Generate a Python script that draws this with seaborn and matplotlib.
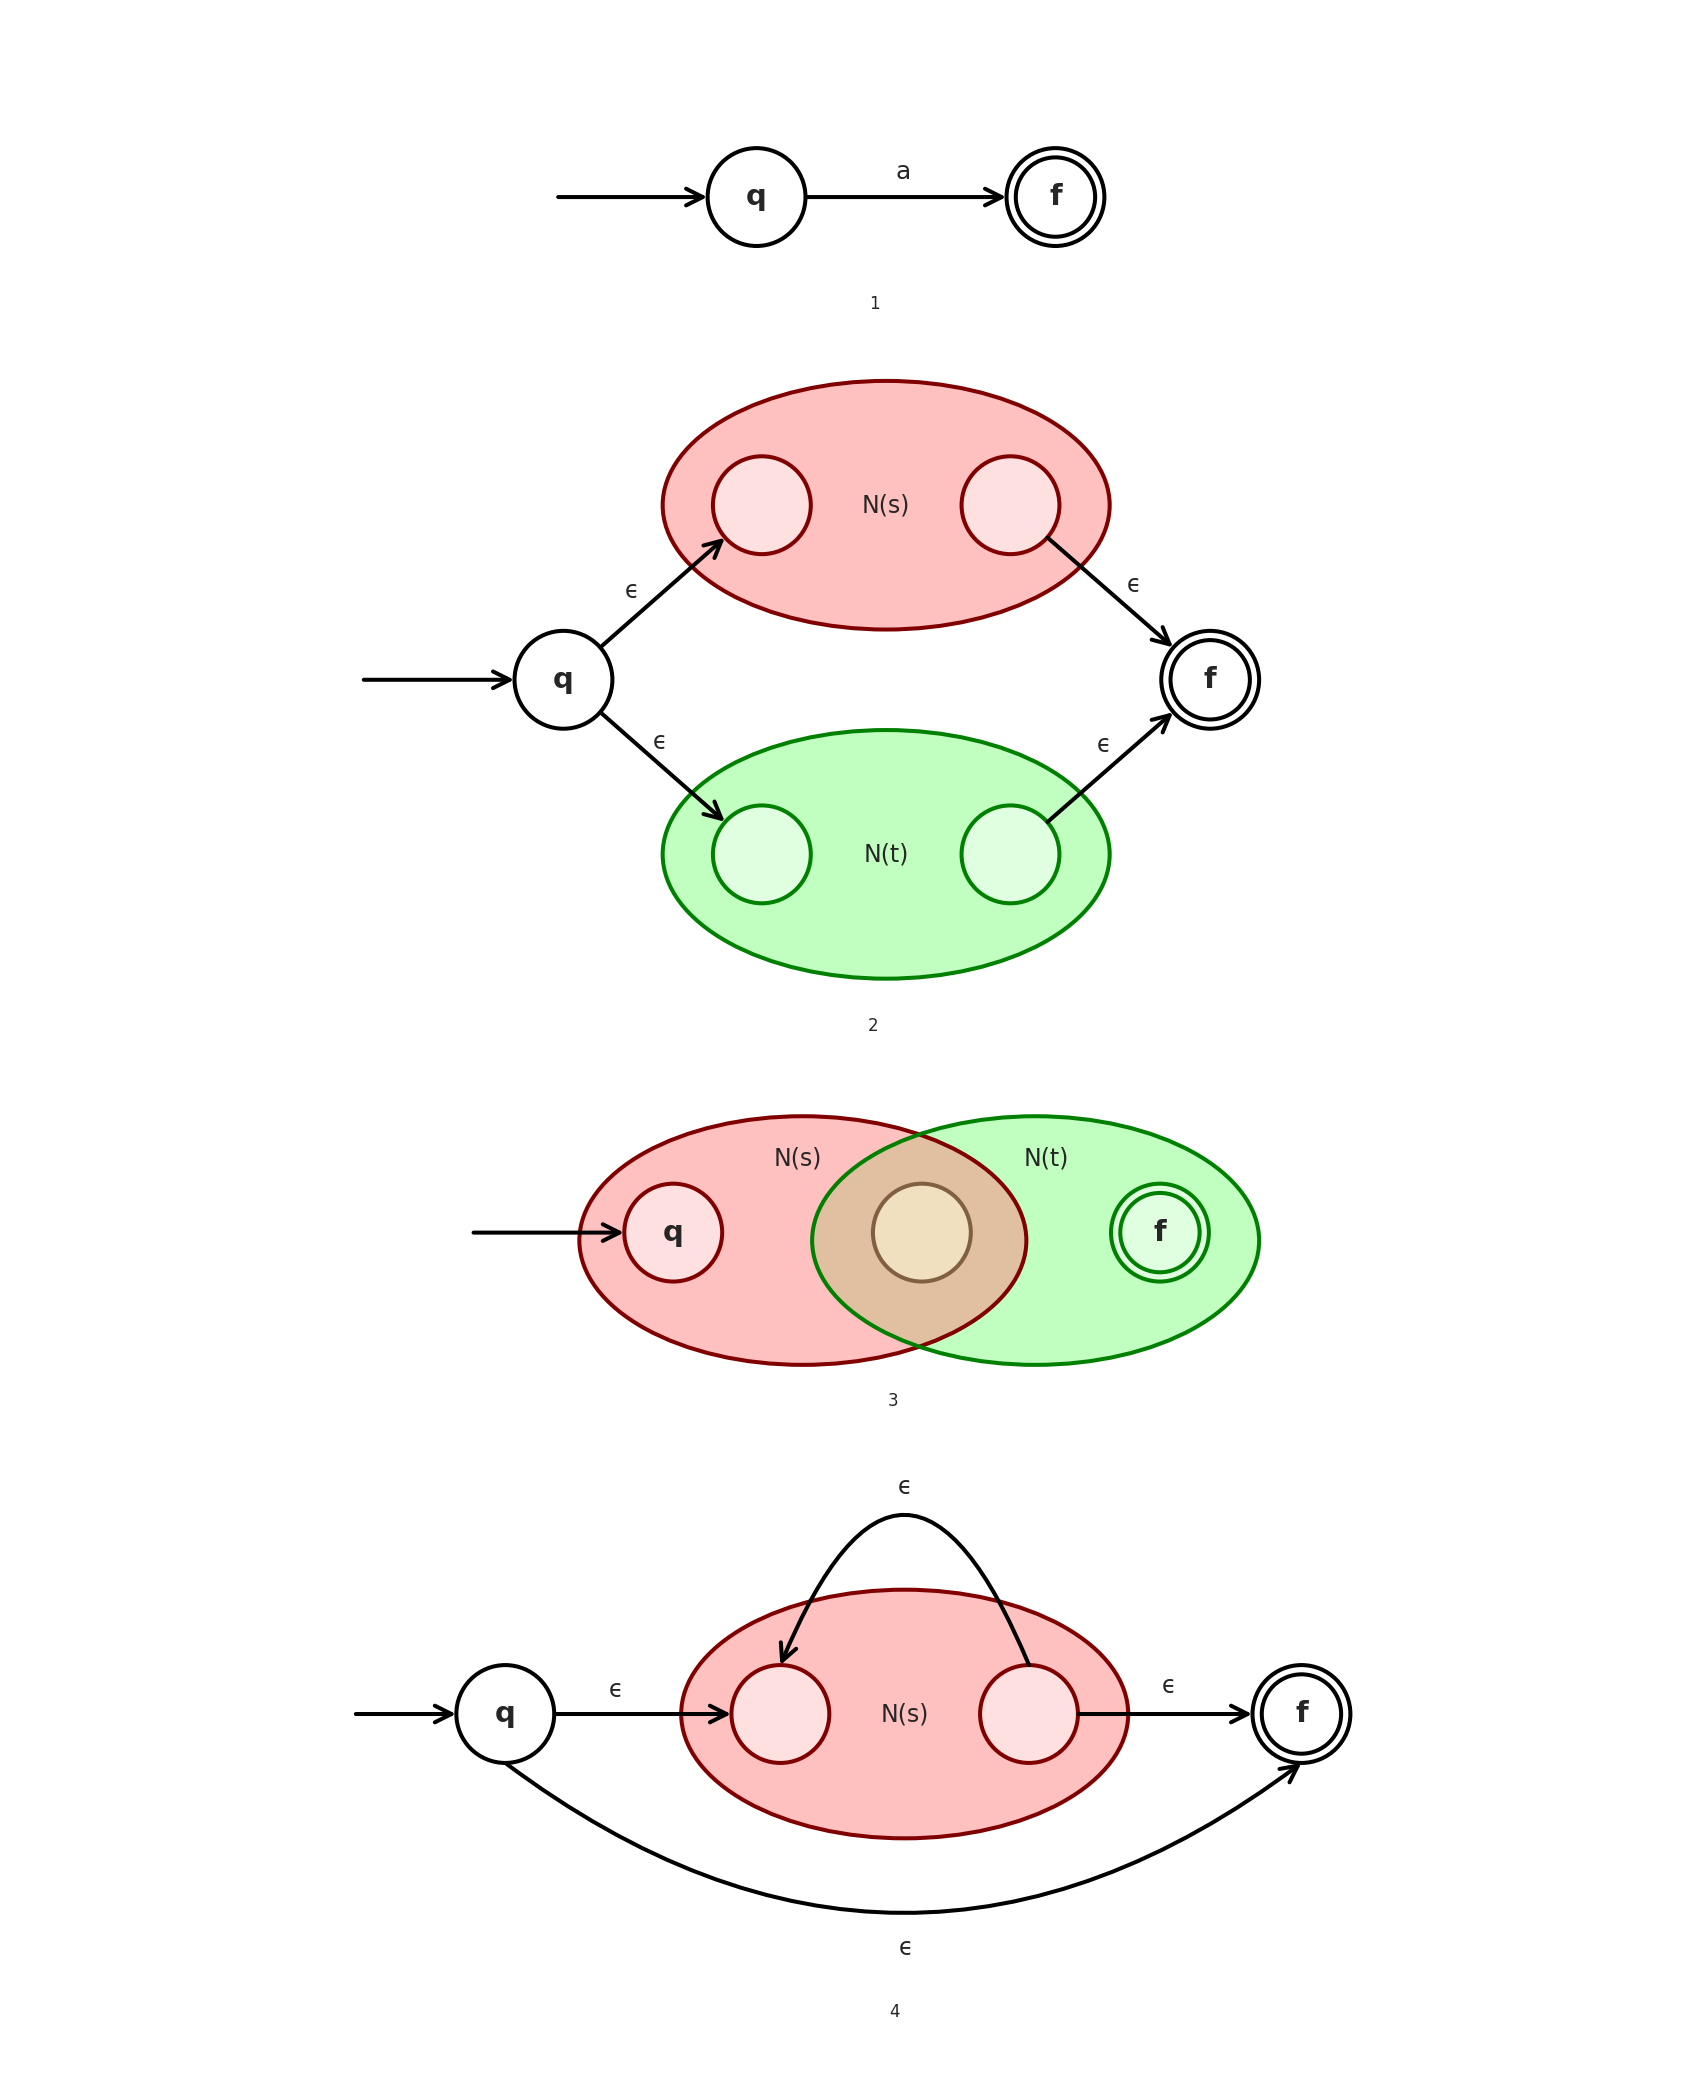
import matplotlib
matplotlib.use("Agg")
import matplotlib.pyplot as plt
import seaborn as sns
from matplotlib.patches import Circle, Ellipse

sns.set_style("white")
plt.rcParams['font.family'] = ['DejaVu Sans']

# layout in reference pixel units (1280 x 1575 frame)
R = 37
red_fill, red_edge, red_inner = "#ffc0c0", "#800000", "#ffe0e0"
grn_fill, grn_edge, grn_inner = "#c0ffc0", "#008000", "#e0ffe0"

# panel 1
p1_nodes = {"q": (572, 149), "f": (798, 149)}
# panel 2
p2_q, p2_f = (426, 514), (915, 514)
p2_s_states = [(576, 382), (764, 382)]
p2_t_states = [(576, 646), (764, 646)]
# panel 3
p3_q, p3_mid, p3_f = (509, 932), (697, 932), (877, 932)
# panel 4
p4_q, p4_f = (382, 1296), (984, 1296)
p4_states = [(590, 1296), (778, 1296)]

captions = ["1", "2", "3", "4"]
caption_pos = [(661, 230), (660, 776), (675, 1059), (676, 1521)]

fig = plt.figure(figsize=(16.93, 20.83), dpi=100)
ax = fig.add_axes([0, 0, 1, 1])
ax.set_xlim(0, 1280)
ax.set_ylim(1575, 0)
ax.set_aspect("equal")
ax.axis("off")

LW = 2.9
SHR = 35.5


def state(c, label="", fc="white", ec="black", final=False):
    ax.add_patch(Circle(c, R, fc=fc, ec=ec, lw=LW, zorder=3))
    if final:
        ax.add_patch(Circle(c, R - 7, fc="none", ec=ec, lw=LW, zorder=4))
    if label:
        ax.text(c[0], c[1], label, ha="center", va="center", fontsize=21,
                fontweight="bold", zorder=5)


def arrow(a, b, sa=SHR, sb=SHR, rad=0.0):
    ax.annotate("", xy=b, xytext=a, zorder=6,
                arrowprops=dict(arrowstyle="->", lw=LW, color="black",
                                mutation_scale=30, shrinkA=sa, shrinkB=sb,
                                connectionstyle=f"arc3,rad={rad}"))


def blob(c, fc, ec, z=1):
    ax.add_patch(Ellipse(c, 338, 188, fc=fc, ec=ec, lw=LW, zorder=z))


def txt(x, y, s, fs=17):
    ax.text(x, y, s, ha="center", va="center", fontsize=fs, zorder=7)


# ---- panel 1
state(p1_nodes["q"], "q")
state(p1_nodes["f"], "f", final=True)
arrow((422, 149), p1_nodes["q"], sa=0)
arrow(p1_nodes["q"], p1_nodes["f"])
txt(683, 130, "a", 18)

# ---- panel 2
blob((670, 382), red_fill, red_edge)
blob((670, 646), grn_fill, grn_edge)
for c in p2_s_states:
    state(c, fc=red_inner, ec=red_edge)
for c in p2_t_states:
    state(c, fc=grn_inner, ec=grn_edge)
txt(670, 382, "N(s)")
txt(670, 646, "N(t)")
state(p2_q, "q")
state(p2_f, "f", final=True)
arrow((275, 514), p2_q, sa=0)
arrow(p2_q, p2_s_states[0])
arrow(p2_q, p2_t_states[0])
arrow(p2_s_states[1], p2_f)
arrow(p2_t_states[1], p2_f)
for x, y in [(478, 447), (857, 442), (499, 561), (835, 563)]:
    txt(x, y, "ϵ")

# ---- panel 3
red3 = Ellipse((607, 938), 338, 188, fc=red_fill, ec="none", zorder=1)
grn3 = Ellipse((783, 938), 338, 188, fc=grn_fill, ec="none", zorder=1)
ax.add_patch(red3)
ax.add_patch(grn3)
ov = Ellipse((607, 938), 338, 188, fc="#e0c0a0", ec="none", zorder=1.5)
ax.add_patch(ov)
ov.set_clip_path(grn3)
ax.add_patch(Ellipse((607, 938), 338, 188, fc="none", ec=red_edge, lw=LW, zorder=2))
ax.add_patch(Ellipse((783, 938), 338, 188, fc="none", ec=grn_edge, lw=LW, zorder=2))
state(p3_q, "q", fc=red_inner, ec=red_edge)
state(p3_mid, fc="#f0e0c0", ec="#806040")
state(p3_f, "f", fc=grn_inner, ec=grn_edge, final=True)
txt(603, 876, "N(s)")
txt(791, 876, "N(t)")
arrow((358, 932), p3_q, sa=0)

# ---- panel 4
blob((684, 1296), red_fill, red_edge)
for c in p4_states:
    state(c, fc=red_inner, ec=red_edge)
txt(684, 1296, "N(s)")
state(p4_q, "q")
state(p4_f, "f", final=True)
arrow((269, 1296), p4_q, sa=0)
arrow(p4_q, p4_states[0])
arrow(p4_states[1], p4_f)
arrow((778, 1259), (590, 1259), sa=0, sb=0, rad=1.2)
arrow((382, 1333), (984, 1333), sa=0, sb=0, rad=0.375)
for x, y in [(466, 1278), (884, 1275), (684, 1124), (685, 1473)]:
    txt(x, y, "ϵ")

for s, (x, y) in zip(captions, caption_pos):
    txt(x, y, s, 12)

fig.savefig("out.png", dpi=100)
